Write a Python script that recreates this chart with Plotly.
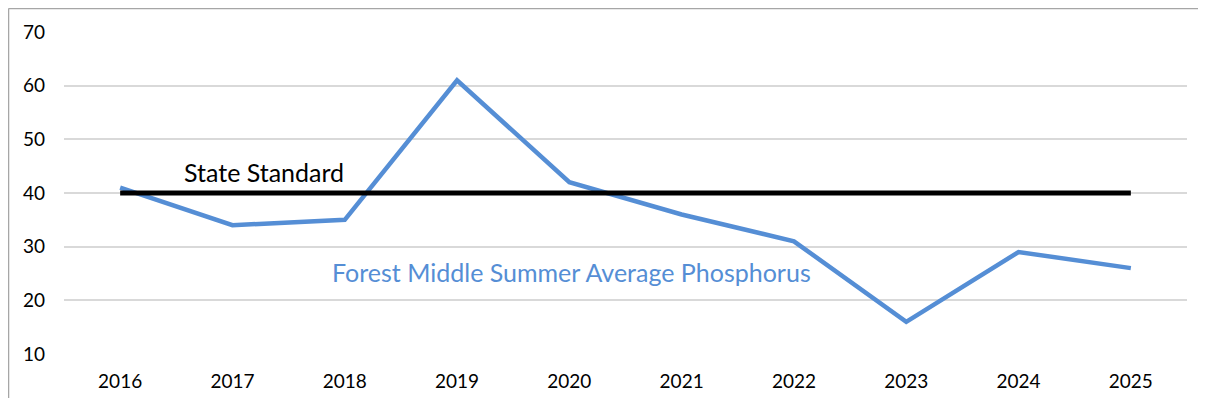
import plotly.graph_objects as go

years = ["2016", "2017", "2018", "2019", "2020", "2021", "2022", "2023", "2024", "2025"]
phosphorus = [41, 34, 35, 61, 42, 36, 31, 16, 29, 26]
state_standard = [40, 40, 40, 40, 40, 40, 40, 40, 40, 40]
y_ticks = [10, 20, 30, 40, 50, 60, 70]

font_family = "Lato, Open Sans, sans-serif"

fig = go.Figure()
fig.add_trace(go.Scatter(x=years, y=phosphorus, mode="lines",
                         line=dict(color="#558ED5", width=4.5), showlegend=False))
fig.add_trace(go.Scatter(x=years, y=state_standard, mode="lines",
                         line=dict(color="#000000", width=5), showlegend=False))

fig.add_annotation(x=1.28, y=43.9, xref="x", yref="y", text="State Standard",
                   showarrow=False, font=dict(family=font_family, size=25, color="#000000"))
fig.add_annotation(x=4.02, y=25.3, xref="x", yref="y",
                   text="Forest Middle Summer Average Phosphorus",
                   showarrow=False, font=dict(family=font_family, size=25, color="#558ED5"))

# outer chart border: only the left and top edges are visible in the picture
border = dict(color="#A6A6A6", width=1.5)
fig.add_shape(type="line", xref="paper", yref="paper", x0=-0.0494, x1=-0.0494, y0=-0.2, y1=1.073,
              line=border, layer="below")
fig.add_shape(type="line", xref="paper", yref="paper", x0=-0.0494, x1=1.1, y0=1.073, y1=1.073,
              line=border, layer="below")

fig.update_xaxes(type="category", range=[-0.5, 9.5], showgrid=False, zeroline=False,
                 showline=False, ticks="", ticklabelstandoff=14, automargin=False,
                 tickfont=dict(family=font_family, size=19, color="#000000"))
fig.update_yaxes(range=[10, 70], tickvals=y_ticks, showgrid=True, gridcolor="#D9D9D9",
                 gridwidth=1.5, zeroline=False, showline=False, ticks="", ticklabelstandoff=18,
                 automargin=False,
                 tickfont=dict(family=font_family, size=19, color="#000000"))

# sized so the page (with its 8px body margin) fits the window without scrollbars
fig.update_layout(width=1190, height=390, margin=dict(l=56, r=11, t=24, b=44),
                  plot_bgcolor="white", paper_bgcolor="white")

fig.write_html("out.html")
